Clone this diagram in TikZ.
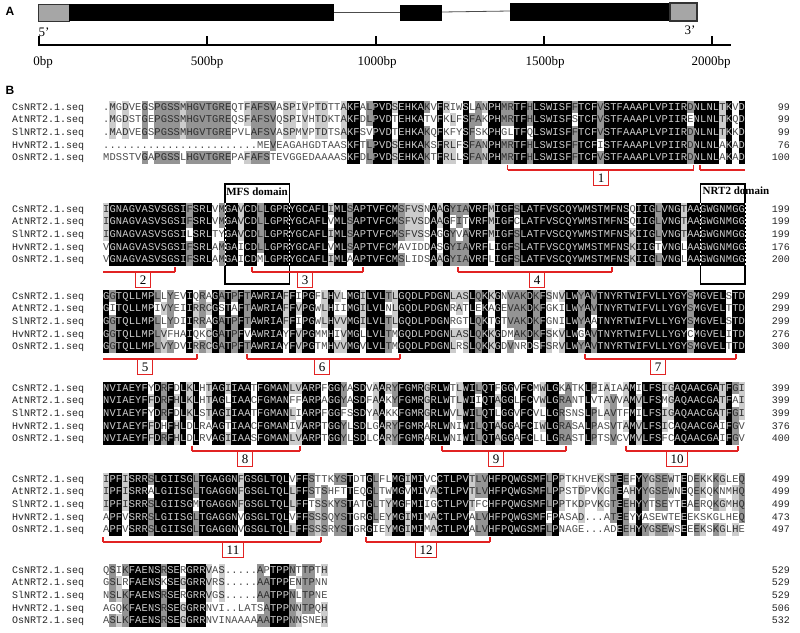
\documentclass[tikz,border=0pt]{standalone}
\usepackage{fontspec}
\setmainfont{Liberation Serif}
\newfontfamily\monof{Liberation Mono}
\newfontfamily\sansf{Liberation Sans}
\definecolor{shA}{gray}{0.0}
\definecolor{shB}{gray}{0.58}
\definecolor{shC}{gray}{0.80}
\definecolor{txW}{gray}{0.80}
\definecolor{txD}{gray}{0.18}
\definecolor{txN}{gray}{0.30}
\definecolor{redb}{RGB}{225,35,35}
\definecolor{exg}{gray}{0.65}
\tikzset{
  res/.style={inner sep=0pt, anchor=base, font=\monof\fontsize{10.4}{10.4}\selectfont},
  nm/.style={inner sep=0pt, anchor=base west, font=\monof\fontsize{10}{10}\selectfont, text=black!85},
  num/.style={inner sep=0pt, anchor=base east, font=\monof\fontsize{10}{10}\selectfont, text=black!85},
  panel/.style={inner sep=0pt, font=\sansf\bfseries\fontsize{12}{12}\selectfont},
  axlab/.style={inner sep=0pt, font=\fontsize{13}{13}\selectfont},
  rl/.style={draw=redb, line width=1.4pt},
  rlab/.style={draw=redb, line width=1.1pt, anchor=north, font=\fontsize{13}{13}\selectfont, inner xsep=4pt, inner ysep=1pt, minimum height=15pt, text=black},
  dom/.style={draw=black, line width=1.1pt},
  domlab/.style={inner sep=0pt, font=\bfseries\fontsize{11}{11}\selectfont},
  wdash/.style={draw=white, line width=1pt, dash pattern=on 2pt off 2pt},
}
\newcommand\AlBg[3]{\fill[#1] (#2,#3) rectangle ++(6.42,12.6);}
\newcommand\AlCh[5]{\node[res,text=#1] (#5) at (#2,#3) {#4};}
\newcommand\RSeg[5]{%
  \draw[rl] (#1,#3) -- (#2,#3);
  \ifnum#4=1 \draw[rl] (#1,#3) -- (#1,#3-5);\fi
  \ifnum#5=1 \draw[rl] (#2,#3) -- (#2,#3-5);\fi}

\ExplSyntaxOn
\str_new:N \l__al_sa_str
\str_new:N \l__al_sb_str
\str_new:N \l__al_sc_str
\str_new:N \l__al_sd_str
\str_new:N \l__al_se_str
\tl_new:N \l__al_ca_tl
\tl_new:N \l__al_cb_tl
\tl_new:N \l__al_cc_tl
\tl_new:N \l__al_cd_tl
\tl_new:N \l__al_ce_tl
\int_new:N \l__al_best_int
\int_new:N \l__al_cnt_int
\tl_new:N \l__al_cons_tl
\tl_new:N \l__al_x_tl
\tl_new:N \l__al_xc_tl
\tl_new:N \l__al_y_tl
\tl_new:N \l__al_yb_tl
\tl_new:N \l__al_bg_tl
\tl_new:N \l__al_fg_tl
\tl_new:N \l__al_blk_tl
\fp_new:N \l__al_ytop_fp
\tl_const:Nn \c__al_dot_tl { . }

\cs_new_protected:Npn \__al_count:N #1
  {
    \int_zero:N \l__al_cnt_int
    \tl_if_eq:NNT #1 \l__al_ca_tl { \int_incr:N \l__al_cnt_int }
    \tl_if_eq:NNT #1 \l__al_cb_tl { \int_incr:N \l__al_cnt_int }
    \tl_if_eq:NNT #1 \l__al_cc_tl { \int_incr:N \l__al_cnt_int }
    \tl_if_eq:NNT #1 \l__al_cd_tl { \int_incr:N \l__al_cnt_int }
    \tl_if_eq:NNT #1 \l__al_ce_tl { \int_incr:N \l__al_cnt_int }
    \tl_if_eq:NNT #1 \c__al_dot_tl { \int_zero:N \l__al_cnt_int }
    \int_compare:nNnT { \l__al_cnt_int } > { \l__al_best_int }
      {
        \int_set_eq:NN \l__al_best_int \l__al_cnt_int
        \tl_set_eq:NN \l__al_cons_tl #1
      }
  }

\cs_new_protected:Npn \__al_cell:nnN #1 #2 #3
  {
    \tl_set:Nx \l__al_x_tl { \fp_eval:n { 103 + (#2 - 1) * 6.42 } }
    \tl_set:Nx \l__al_xc_tl { \fp_eval:n { 103 + (#2 - 0.5) * 6.42 } }
    \tl_set:Nx \l__al_y_tl { \fp_eval:n { \l__al_ytop_fp + (#1 - 1) * 12.6 - 6.3 } }
    \tl_set:Nx \l__al_yb_tl { \fp_eval:n { \l__al_ytop_fp + (#1 - 1) * 12.6 + 3.3 } }
    \tl_set:Nn \l__al_fg_tl { txN }
    \bool_lazy_and:nnT
      { \int_compare_p:nNn { \l__al_best_int } > { 2 } }
      { \tl_if_eq_p:NN #3 \l__al_cons_tl }
      {
        \int_case:nn { \l__al_best_int }
          {
            { 5 } { \tl_set:Nn \l__al_bg_tl { shA } \tl_set:Nn \l__al_fg_tl { txW } }
            { 4 } { \tl_set:Nn \l__al_bg_tl { shB } \tl_set:Nn \l__al_fg_tl { txD } }
            { 3 } { \tl_set:Nn \l__al_bg_tl { shC } \tl_set:Nn \l__al_fg_tl { txD } }
          }
        \use:e { \exp_not:N \AlBg { \l__al_bg_tl } { \l__al_x_tl } { \l__al_y_tl } }
      }
    \use:e { \exp_not:N \AlCh { \l__al_fg_tl } { \l__al_xc_tl } { \l__al_yb_tl } { \exp_not:V #3 } { s \l__al_blk_tl - #1 - #2 } }
  }

\cs_new_protected:Npn \al_block:nnnnnnn #1 #2 #3 #4 #5 #6 #7
  {
    \tl_set:Nn \l__al_blk_tl {#1}
    \fp_set:Nn \l__al_ytop_fp {#2}
    \str_set:Nn \l__al_sa_str {#3}
    \str_set:Nn \l__al_sb_str {#4}
    \str_set:Nn \l__al_sc_str {#5}
    \str_set:Nn \l__al_sd_str {#6}
    \str_set:Nn \l__al_se_str {#7}
    \int_step_inline:nn { \str_count:N \l__al_sa_str }
      {
        \tl_set:Nx \l__al_ca_tl { \str_item:Nn \l__al_sa_str {##1} }
        \tl_set:Nx \l__al_cb_tl { \str_item:Nn \l__al_sb_str {##1} }
        \tl_set:Nx \l__al_cc_tl { \str_item:Nn \l__al_sc_str {##1} }
        \tl_set:Nx \l__al_cd_tl { \str_item:Nn \l__al_sd_str {##1} }
        \tl_set:Nx \l__al_ce_tl { \str_item:Nn \l__al_se_str {##1} }
        \int_zero:N \l__al_best_int
        \tl_clear:N \l__al_cons_tl
        \__al_count:N \l__al_ca_tl
        \__al_count:N \l__al_cb_tl
        \__al_count:N \l__al_cc_tl
        \__al_count:N \l__al_cd_tl
        \__al_count:N \l__al_ce_tl
        \__al_cell:nnN {1} {##1} \l__al_ca_tl
        \__al_cell:nnN {2} {##1} \l__al_cb_tl
        \__al_cell:nnN {3} {##1} \l__al_cc_tl
        \__al_cell:nnN {4} {##1} \l__al_cd_tl
        \__al_cell:nnN {5} {##1} \l__al_ce_tl
      }
  }
\NewDocumentCommand \AlBlock { m m m m m m m } { \al_block:nnnnnnn {#1}{#2}{#3}{#4}{#5}{#6}{#7} }
\ExplSyntaxOff

\begin{document}
\begin{tikzpicture}[x=1pt,y=-1pt]
\useasboundingbox (0,0) rectangle (800,632);

% ---------- Panel A ----------
\node[panel] (pA) at (10,11) {A};
\filldraw[fill=exg, draw=black!80, line width=0.8pt] (38,4) rectangle (69,21);
\fill[black] (69,4) rectangle (334,21);
\draw[black!70, line width=0.8pt] (334,12.5) -- (400,12.5);
\fill[black] (400,5) rectangle (442,21);
\draw[black!70, line width=0.8pt] (442,12) -- (510,11);
\fill[black] (510,3) rectangle (670,21);
\filldraw[fill=exg, draw=black!80, line width=1.2pt] (670,3) rectangle (697,21);
\node[axlab] (p5) at (44,32) {5’};
\node[axlab] (p3) at (690,30) {3’};
\draw[line width=1.2pt] (38,45) -- (731,45);
\foreach \tx in {39,207,376,544,712} { \draw[line width=1.2pt] (\tx,45) -- (\tx,36); }
\node[axlab] (b0) at (43,62) {0bp};
\node[axlab] (b500) at (207,62) {500bp};
\node[axlab] (b1000) at (377,62) {1000bp};
\node[axlab] (b1500) at (545,62) {1500bp};
\node[axlab] (b2000) at (711,62) {2000bp};

% ---------- Panel B ----------
\node[panel] (pB) at (10,90) {B};

\foreach \b/\y in {1/107,2/209,3/296,4/388,5/479,6/570} {
  \foreach \n [count=\k] in {Cs,At,Sl,Hv,Os} {
    \node[nm] (nm\b\k) at (12,\y+\k*12.6-12.6+3.3) {\n NRT2.1.seq};
  }
}
\foreach \b/\y/\na/\nb/\nc/\nd/\ne in {1/107/99/99/99/76/100, 2/209/199/199/199/176/200, 3/296/299/299/299/276/300, 4/388/399/399/399/376/400, 5/479/499/499/499/473/497, 6/570/529/529/529/506/532} {
  \node[num] (nu\b1) at (790,\y+3.3) {\na};
  \node[num] (nu\b2) at (790,\y+12.6+3.3) {\nb};
  \node[num] (nu\b3) at (790,\y+25.2+3.3) {\nc};
  \node[num] (nu\b4) at (790,\y+37.8+3.3) {\nd};
  \node[num] (nu\b5) at (790,\y+50.4+3.3) {\ne};
}

% domain boxes (behind the alignment)
\draw[dom] (225,184) rectangle (289.2,284);
\draw[dom] (700.1,184) rectangle (745,284);
\node[domlab] (mfs) at (257,192) {MFS domain};
\node[domlab] (nrt) at (736,191) {NRT2 domain};

\AlBlock{1}{107}
{.MGDVEGSPGSSMHGVTGREQTFAFSVASPIVPTDTTAKFALPVDSEHKAKVFRIWSLANPHMRTFHLSWISFFTCFVSTFAAAPLVPIIRDNLNLTKVD}
{.MGDSTGEPGSSMHGVTGREQSFAFSVQSPIVHTDKTAKFDLPVDTEHKATVFKLFSFAKPHMRTFHLSWISFSTCFVSTFAAAPLVPIIRENLNLTKQD}
{.MADVEGSPGSSMHGVTGREPVLAFSVASPMVPTDTSAKFSVPVDTEHKAKQFKFYSFSKPHGLTFQLSWISFFTCFVSTFAAAPLVPIIRDNLNLTKKD}
{........................MEVEAGAHGDTAASKFTLPVDSEHKAKSFRLFSFANPHMRTFHLSWISFFTCFISTFAAAPLVPIIRDNLNLAKAD}
{MDSSTVGAPGSSLHGVTGREPAFAFSTEVGGEDAAAASKFDLPVDSEHKAKTFRLLSFANPHMRTFHLSWISFFTCFVSTFAAAPLVPIIRDNLNLAKAD}

\AlBlock{2}{209}
{IGNAGVASVSGSIFSRLVMGAVCDLLGPRYGCAFLIMLSAPTVFCMSFVSNAAGYIAVRFMIGFSLATFVSCQYWMSTMFNSQIIGLVNGTAAGWGNMGG}
{IGNAGVASVSGSIFSRLVMGAVCDLLGPRYGCAFLVMLSAPTVFCMSFVSDAAGFITVRFMIGFCLATFVSCQYWMSTMFNSQIIGLVNGTAAGWGNMGG}
{IGNAGVASVSGSILSRLTYGAVCDLLGPRYGCAFLIMLSAPTVFCMSFVSSAGGYVAVRFMIGFSLATFVSCQYWMSTMFNSKIIGLVNGTAAGWGNMGG}
{VGNAGVASVSGSIFSRLAMGAICDLLGPRYGCAFLVMLSAPTVFCMAVIDDASGYIAVRFLIGFSLATFVSCQYWMSTMFNSKIIGTVNGLAAGWGNMGG}
{VGNAGVASVSGSIFSRLAMGAICDMLGPRYGCAFLIMLAAPTVFCMSLIDSAAGYIAVRFLIGFSLATFVSCQYWMSTMFNSKIIGLVNGLAAGWGNMGG}

\AlBlock{3}{296}
{GGTQLLMPLLYEVIQRAGATPFTAWRIAFFIPGFLHVLMGILVLTLGQDLPDGNLASLQKKGNVAKDKFSNVLWYAVTNYRTWIFVLLYGYSMGVELSTD}
{GITQLLMPIVYEIIRRCGSTAFTAWRIAFFVPGWLHIIMGILVLNLGQDLPDGNRATLEKAGEVAKDKFGKILWYAVTNYRTWIFVLLYGYSMGVELTTD}
{GGTQLLMPLLYDIIRRAGATPFTAWRIAFFIPGWLHVVMGILVLTLGQDLPDGNRGTLQKTGTVAKDKFGNILWYAATNYRTWIFVLLYGYSMGVELSTD}
{GGTQLLMPLVFHAIQKCGATPFVAWRIAYFVPGMMHIVMGLLVLTMGQDLPDGNLASLQKKGDMAKDKFSKVLWGAVTNYRTWIFVLLYGYCMGVELITD}
{GGTQLLMPLVYDVIRRCGATPFTAWRIAYFVPGTMHVVMGVLVLTMGQDLPDGNLRSLQKKGDVNRDSFSRVLWYAVTNYRTWIFVLLYGYSMGVELTTD}

\AlBlock{4}{388}
{NVIAEYFYDRFDLKLHTAGIIAATFGMANLVARPFGGYASDVAARYFGMRGRLWTLWILQTFGGVFCMWLGKATKLPIAIAAMILFSIGAQAACGATFGI}
{NVIAEYFFDRFHLKLHTAGLIAACFGMANFFARPAGGYASDFAAKYFGMRGRLWTLWIIQTAGGLFCVWLGRANTLVTAVVAMVLFSMGAQAACGATFAI}
{NVIAEYFYDRFDLKLSTAGIIAATFGMANLIARPFGGFSSDYAAKKFGMRGRLWVLWILQTLGGVFCVLLGRSNSLPLAVTFMILFSIGAQAACGATFGI}
{NVIAEYFFDHFHLDLRAAGTIAACFGMANIVARPTGGYLSDLGARYFGMRARLWNIWILQTAGGAFCIWLGRASALPASVTAMVLFSICAQAACGAIFGV}
{NVIAEYFFDRFHLDLRVAGIIAASFGMANLVARPTGGYLSDLCARYFGMRARLWNIWILQTAGGAFCLLLGRASTLPTSVCVMVLFSFCAQAACGAIFGV}

\AlBlock{5}{479}
{IPFISRRSLGIISGLTGAGGNFGSGLTQLVFFSTTKYSTDTGLFLMGIMIVCCTLPVTLVHFPQWGSMFLPPTKHVEKSTEEFYYGSEWTEDEKKKGLEQ}
{IPFISRRALGIISGLTGAGGNFGSGLTQLLFFSTSHFTTEQGLTWMGVMIVACTLPVTLVHFPQWGSMFLPPSTDPVKGTEAHYYGSEWNEQEKQKNMHQ}
{IPFISRRSLGIISGMTGAGGNFGSGLTQLLFFTSSKYSTATGLTYMGFMIIGCTLPVTFCHFPQWGSMFLPPTKDPVKGTEEHYYTSEYTEAERQKGMHQ}
{APFVSRRSLGIISGLTGAGGNVGSGLTQLVFFSSSQYSTGRGLEYMGIMIMACTLPVALVHFPQWGSMFFPASAD...ATEEYYASEWTEEEKSKGLHEQ}
{APFVSRRSLGIISGLTGAGGNVGSGLTQLLFFSSSRYSTGRGIEYMGIMIMACTLPVALVHFPQWGSMFLPNAGE...ADEEHYYGSEWSEEEKSKGLHE}

\AlBlock{6}{570}
{QSIKFAENSRSERGRRVAS.....APTPPNTTPTH}
{GSLRFAENSKSEGGRRVRS.....AATPPENTPNN}
{NSLKFAENSRSERGRRVGS.....AATPPNLTPNE}
{AGQKFAENSRSEGGRRNVI..LATSATPPNNTPQH}
{ASLKFAENSRSEGGRRNVINAAAAAATPPNNSNEH}

% white dashed domain edges over the alignment
\draw[wdash] (225,203) -- (225,266);
\draw[wdash] (289.2,203) -- (289.2,266);
\draw[wdash] (700.1,203) -- (700.1,266);
\draw[wdash] (745,203) -- (745,266);

% ---------- transmembrane segments ----------
\RSeg{507.5}{693.6}{170}{1}{1}
\node[rlab] (t1) at (601,170) {1};
\RSeg{700}{745}{170}{1}{0}

\RSeg{103}{175}{272}{0}{1}
\node[rlab] (t2) at (143,272) {2};
\RSeg{252}{363}{272}{1}{1}
\node[rlab] (t3) at (305,272) {3};
\RSeg{458}{612}{272}{1}{1}
\node[rlab] (t4) at (537,272) {4};

\RSeg{103}{197}{359}{0}{1}
\node[rlab] (t5) at (145,359) {5};
\RSeg{247}{400}{359}{1}{1}
\node[rlab] (t6) at (322,359) {6};
\RSeg{585}{736}{359}{1}{1}
\node[rlab] (t7) at (658,359) {7};

\RSeg{192}{300}{451}{1}{1}
\node[rlab] (t8) at (245,451) {8};
\RSeg{442}{566}{451}{1}{1}
\node[rlab] (t9) at (496,451) {9};
\RSeg{626}{738}{451}{1}{1}
\node[rlab] (t10) at (677,451) {10};

\RSeg{103}{321}{542}{1}{1}
\node[rlab] (t11) at (233,542) {11};
\RSeg{366}{490}{542}{1}{1}
\node[rlab] (t12) at (426,542) {12};
\end{tikzpicture}
\end{document}
